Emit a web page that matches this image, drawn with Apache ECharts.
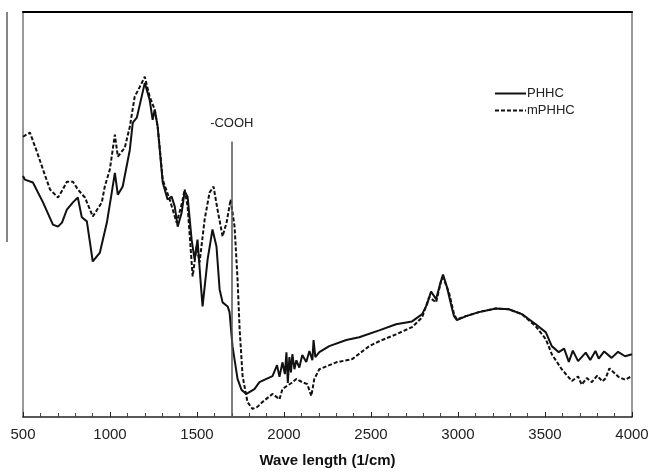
<!DOCTYPE html>
<html>
<head>
<meta charset="utf-8">
<script src="https://cdn.jsdelivr.net/npm/echarts@6/dist/echarts.min.js"></script>
<style>
  html, body { margin: 0; padding: 0; background: #fff; }
  #chart { width: 652px; height: 473px; }
</style>
</head>
<body>
<div id="chart"></div>
<script>
// wavenumber (1/cm) and relative intensity
const phhcWave = [500, 511, 557, 615, 672, 701, 724, 752, 787, 815, 838, 867, 901, 942, 982, 1010, 1028, 1045, 1073, 1114,
  1131, 1154, 1182, 1200, 1228, 1245, 1257, 1274, 1303, 1331, 1354, 1372, 1389, 1412, 1429, 1446, 1469, 1486, 1503, 1521,
  1532, 1561, 1589, 1612, 1630, 1647, 1676, 1687, 1704, 1733, 1756, 1784, 1830, 1859, 1899, 1934, 1960, 1974, 1991, 2005,
  2014, 2022, 2031, 2040, 2048, 2060, 2071, 2088, 2105, 2128, 2146, 2163, 2170, 2180, 2203, 2260, 2358, 2432, 2547, 2644,
  2736, 2794, 2822, 2845, 2874, 2897, 2914, 2937, 2960, 2977, 2994, 3046, 3120, 3218, 3292, 3367, 3447, 3505, 3539, 3579,
  3610, 3637, 3660, 3690, 3734, 3760, 3790, 3809, 3840, 3883, 3920, 3960, 4000];
const phhcValue = [59.5, 58.6, 57.9, 53.0, 47.5, 47.0, 48.0, 51.2, 53.0, 54.2, 49.3, 48.3, 38.4, 40.6, 48.0, 55.4, 60.3, 54.9, 56.9, 66.0,
  72.7, 73.9, 79.1, 82.5, 78.3, 73.4, 75.9, 71.7, 57.9, 53.7, 54.4, 52.0, 47.0, 50.5, 55.7, 54.4, 43.8, 38.9, 43.8, 33.3,
  27.3, 38.9, 46.3, 42.1, 31.5, 28.3, 27.3, 25.9, 17.5, 9.4, 6.7, 5.7, 6.9, 8.6, 9.4, 10.1, 12.8, 9.9, 13.5, 10.6,
  16.0, 8.4, 14.8, 11.0, 15.5, 11.8, 14.0, 12.2, 15.3, 13.6, 16.3, 14.0, 19.0, 14.8, 16.0, 17.5, 19.0, 19.7, 21.4, 22.9,
  23.6, 25.4, 27.8, 31.0, 29.1, 32.8, 35.2, 32.0, 27.8, 24.9, 23.9, 24.9, 25.9, 26.8, 26.6, 25.4, 22.9, 20.9, 17.5, 16.0,
  16.9, 13.6, 16.4, 13.8, 15.9, 14.1, 16.3, 14.4, 16.2, 14.6, 16.1, 15.0, 15.5];

const mphhcWave = [500, 540, 580, 615, 655, 701, 729, 752, 787, 815, 856, 901, 953, 970, 999, 1028, 1045, 1085, 1114, 1142,
  1171, 1200, 1228, 1257, 1274, 1303, 1343, 1383, 1412, 1429, 1446, 1475, 1498, 1515, 1544, 1572, 1595, 1618, 1647, 1670,
  1693, 1716, 1733, 1745, 1762, 1790, 1819, 1847, 1876, 1934, 1974, 1991, 2014, 2043, 2071, 2105, 2134, 2157, 2174, 2203,
  2300, 2392, 2490, 2547, 2644, 2736, 2794, 2834, 2874, 2908, 2925, 2948, 2977, 2994, 3046, 3120, 3218, 3292, 3367, 3447,
  3505, 3539, 3596, 3654, 3690, 3711, 3740, 3769, 3800, 3830, 3849, 3870, 3923, 3960, 4000];
const mphhcValue = [69.2, 70.2, 65.5, 61.1, 56.2, 54.2, 56.2, 58.1, 58.1, 56.2, 54.2, 49.5, 53.0, 56.9, 61.1, 69.7, 64.3, 66.5, 71.7, 79.1,
  81.5, 84.0, 79.1, 75.9, 71.7, 58.6, 53.7, 48.0, 52.5, 56.2, 52.0, 34.7, 42.1, 38.2, 48.8, 55.4, 56.9, 51.2, 44.6, 48.0,
  53.7, 47.0, 34.0, 21.7, 10.1, 3.7, 2.0, 2.5, 3.7, 5.7, 4.4, 6.9, 7.6, 8.4, 9.4, 8.6, 8.1, 5.2, 9.4, 11.8,
  13.5, 14.3, 17.5, 18.7, 20.4, 22.2, 24.6, 29.6, 28.3, 34.5, 33.3, 30.8, 25.4, 24.1, 24.9, 25.9, 26.8, 26.6, 25.4, 22.4,
  19.2, 15.5, 11.8, 8.9, 10.0, 8.0, 9.6, 8.6, 10.2, 8.8, 9.6, 12.0, 9.9, 9.2, 10.1];

const xTicks = [500, 1000, 1500, 2000, 2500, 3000, 3500, 4000];
const coohWave = 1700;
const coohTop = 68;

const pairs = (xs, ys) => xs.map((x, i) => [x, ys[i]]);
const font = 'Liberation Sans, Arial, sans-serif';

const chart = echarts.init(document.getElementById('chart'), null, { renderer: 'canvas' });

const option = {
  animation: false,
  backgroundColor: '#fff',
  grid: { left: 23, right: 20, top: 12, bottom: 55 },
  legend: {
    orient: 'vertical',
    left: 489,
    top: 82,
    itemWidth: 31,
    itemHeight: 14,
    itemGap: 4,
    itemStyle: { opacity: 0 },
    textStyle: { fontFamily: font, fontSize: 13, color: '#222', padding: [0, 0, 0, -4] },
    data: ['PHHC', 'mPHHC']
  },
  xAxis: [
    {
      type: 'value',
      min: 500,
      max: 4000,
      interval: 500,
      name: 'Wave length (1/cm)',
      nameLocation: 'middle',
      nameGap: 36,
      nameTextStyle: { fontFamily: font, fontSize: 15, fontWeight: 'bold', color: '#111' },
      axisLine: { onZero: false, lineStyle: { color: '#222', width: 1.5 } },
      axisTick: { inside: true, length: 5, lineStyle: { color: '#222' } },
      minorTick: { show: true, splitNumber: 5, length: 4, lineStyle: { color: '#444' } },
      axisLabel: {
        fontFamily: font, fontSize: 15, color: '#222', margin: 10,
        formatter: v => xTicks.includes(v) ? String(v) : ''
      },
      splitLine: { show: false }
    },
    {
      type: 'value',
      position: 'top',
      min: 500,
      max: 4000,
      axisLine: { show: true, onZero: false, lineStyle: { color: '#000', width: 2 } },
      axisTick: { show: false },
      axisLabel: { show: false },
      splitLine: { show: false }
    }
  ],
  yAxis: [
    {
      type: 'value',
      min: 0,
      max: 100,
      axisLine: { show: true, onZero: false, lineStyle: { color: '#777', width: 1.5 } },
      axisTick: { show: false },
      axisLabel: { show: false },
      splitLine: { show: false }
    },
    {
      type: 'value',
      position: 'right',
      min: 0,
      max: 100,
      axisLine: { show: true, onZero: false, lineStyle: { color: '#777', width: 1.5 } },
      axisTick: { show: false },
      axisLabel: { show: false },
      splitLine: { show: false }
    }
  ],
  series: [
    {
      name: 'PHHC',
      type: 'line',
      symbol: 'none',
      data: pairs(phhcWave, phhcValue),
      lineStyle: { color: '#111', width: 2 },
      itemStyle: { color: '#111' },
      markLine: {
        silent: true,
        symbol: 'none',
        lineStyle: { color: '#555', width: 1.5, type: 'solid' },
        label: {
          position: 'start',
          formatter: '-COOH',
          fontFamily: font,
          fontSize: 13,
          color: '#222',
          distance: 12
        },
        data: [[{ coord: [coohWave, coohTop] }, { coord: [coohWave, 0] }]]
      }
    },
    {
      name: 'mPHHC',
      type: 'line',
      symbol: 'none',
      data: pairs(mphhcWave, mphhcValue),
      lineStyle: { color: '#111', width: 2, type: [4, 2] },
      itemStyle: { color: '#111' }
    }
  ],
  graphic: [
    {
      type: 'line',
      shape: { x1: 7, y1: 12, x2: 7, y2: 242 },
      style: { stroke: '#333', lineWidth: 1.2 }
    }
  ]
};

chart.setOption(option);
</script>
</body>
</html>
